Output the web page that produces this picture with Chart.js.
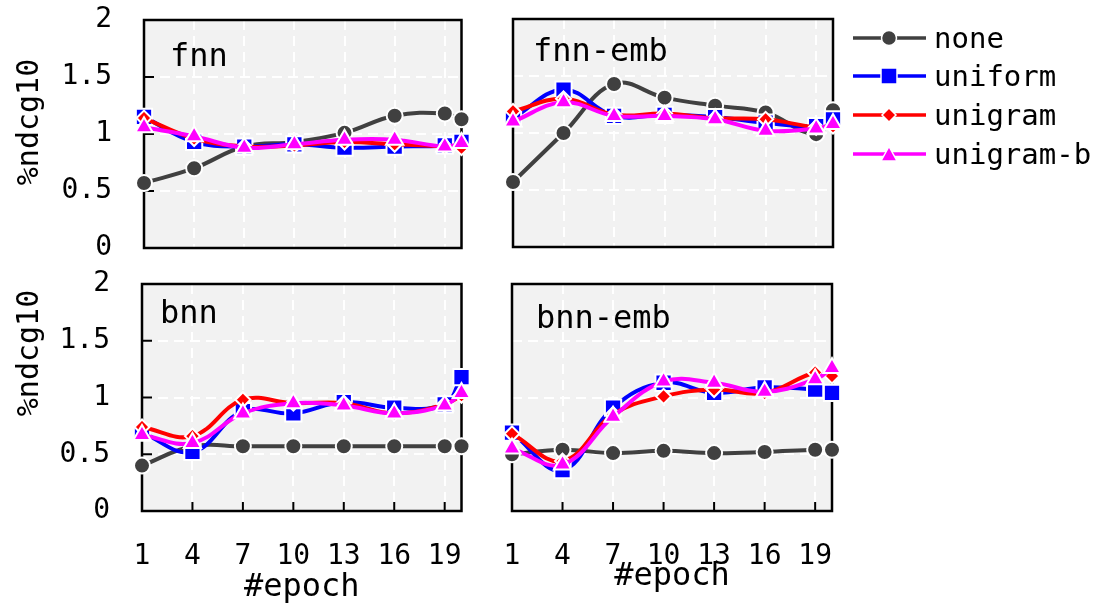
<!DOCTYPE html>
<html>
<head>
<meta charset="utf-8">
<script src="https://cdn.jsdelivr.net/npm/chart.js@4.4.0/dist/chart.umd.min.js"></script>
<style>
  body { margin: 0; background: #fff; width: 1108px; height: 605px; overflow: hidden; position: relative; }
  canvas { position: absolute; }
  #legend { position: absolute; left: 0; top: 0; pointer-events: none; }
</style>
</head>
<body>
<canvas id="fnn" width="475" height="262" style="left:0;top:0"></canvas>
<canvas id="fnnEmb" width="360" height="262" style="left:490px;top:0"></canvas>
<canvas id="bnn" width="475" height="335" style="left:0;top:270px"></canvas>
<canvas id="bnnEmb" width="360" height="335" style="left:490px;top:270px"></canvas>
<svg id="legend" width="1108" height="200"></svg>

<script>
// epochs sampled on the x axis, and the ones that get a tick label
const epochs = [1, 4, 7, 10, 13, 16, 19, 20];
const epochTicks = [1, 4, 7, 10, 13, 16, 19];
const seriesNames = ["none", "uniform", "unigram", "unigram-b"];

// %ndcg10 per epoch
const fnnNone     = [0.57, 0.70, 0.89, 0.93, 1.01, 1.16, 1.18, 1.13];
const fnnUniform  = [1.15, 0.93, 0.89, 0.91, 0.88, 0.89, 0.90, 0.93];
const fnnUnigram  = [1.14, 0.96, 0.89, 0.90, 0.93, 0.91, 0.89, 0.88];
const fnnUnigramB = [1.06, 0.98, 0.88, 0.91, 0.95, 0.95, 0.89, 0.92];

const fnnEmbNone     = [0.57, 1.00, 1.43, 1.31, 1.24, 1.18, 0.99, 1.20];
const fnnEmbUniform  = [1.13, 1.38, 1.15, 1.16, 1.14, 1.09, 1.06, 1.12];
const fnnEmbUnigram  = [1.19, 1.30, 1.16, 1.17, 1.13, 1.12, 1.05, 1.06];
const fnnEmbUnigramB = [1.10, 1.27, 1.15, 1.15, 1.12, 1.02, 1.04, 1.08];

const bnnNone     = [0.40, 0.57, 0.57, 0.57, 0.57, 0.57, 0.57, 0.57];
const bnnUniform  = [0.69, 0.52, 0.88, 0.86, 0.96, 0.91, 0.94, 1.18];
const bnnUnigram  = [0.74, 0.66, 0.98, 0.95, 0.95, 0.86, 0.94, 1.02];
const bnnUnigramB = [0.67, 0.60, 0.86, 0.95, 0.93, 0.86, 0.93, 1.04];

const bnnEmbNone     = [0.50, 0.54, 0.51, 0.53, 0.51, 0.52, 0.54, 0.54];
const bnnEmbUniform  = [0.69, 0.36, 0.91, 1.13, 1.04, 1.09, 1.07, 1.04];
const bnnEmbUnigram  = [0.68, 0.44, 0.85, 1.01, 1.07, 1.04, 1.22, 1.19];
const bnnEmbUnigramB = [0.55, 0.41, 0.83, 1.14, 1.13, 1.05, 1.16, 1.26];

const MONO = "'DejaVu Sans Mono', monospace";

const seriesStyle = [
  { color: "#404040", pointStyle: "circle", radius: 8 },
  { color: "#0000ff", pointStyle: "rect", radius: 11.5 },
  { color: "#ff0000", pointStyle: "rectRot", radius: 7.5 },
  { color: "#ff00ff", pointStyle: "triangle", radius: 10 },
];

// grey plot background, black frame, inner tick marks, panel name and y title
const panelDecor = {
  id: "panelDecor",
  beforeDraw(chart) {
    const { ctx, chartArea: a } = chart;
    ctx.save();
    ctx.fillStyle = "#f2f2f2";
    ctx.fillRect(a.left, a.top, a.right - a.left, a.bottom - a.top);
    ctx.restore();
  },
  beforeDatasetsDraw(chart, args, opts) {
    const { ctx, chartArea: a, scales } = chart;
    ctx.save();
    ctx.strokeStyle = "#000";
    ctx.lineWidth = 2.5;
    ctx.strokeRect(a.left, a.top, a.right - a.left, a.bottom - a.top);

    ctx.lineWidth = 2;
    ctx.beginPath();
    if (opts.yMarks) {
      scales.y.ticks.forEach(function (t) {
        if (t.value > 0 && t.value < 2) {
          const y = scales.y.getPixelForValue(t.value);
          ctx.moveTo(a.left, y);
          ctx.lineTo(a.left + 10, y);
        }
      });
    }
    if (opts.xMarks) {
      epochTicks.slice(1).forEach(function (v) {
        const x = scales.x.getPixelForValue(v);
        ctx.moveTo(x, a.bottom);
        ctx.lineTo(x, a.bottom - 9);
      });
    }
    ctx.stroke();

    ctx.fillStyle = "#000";
    ctx.textBaseline = "middle";
    ctx.textAlign = "left";
    ctx.font = "32px " + MONO;
    ctx.fillText(opts.name, a.left + opts.nameDx, a.top + opts.nameDy);

    if (opts.yTitle) {
      ctx.font = "30px " + MONO;
      ctx.translate(opts.yTitleX, opts.yTitleY);
      ctx.rotate(-Math.PI / 2);
      ctx.textAlign = "center";
      ctx.fillText(opts.yTitle, 0, 0);
    }
    ctx.restore();
  },
};

function makeDatasets(rows) {
  return rows.map(function (vals, i) {
    const s = seriesStyle[i];
    return {
      label: seriesNames[i],
      data: epochs.map(function (e, j) { return { x: e, y: vals[j] }; }),
      borderColor: s.color,
      backgroundColor: s.color,
      borderWidth: 4,
      tension: 0.4,
      pointStyle: s.pointStyle,
      pointRadius: s.radius,
      pointBorderColor: "#fff",
      pointBorderWidth: 2,
      order: rows.length - i,
      clip: false,
    };
  });
}

// axis boxes get fixed sizes and no extra padding, so plot areas line up
function fixBox(size, horizontal) {
  return function (scale) {
    if (horizontal) scale.height = size; else scale.width = size;
    scale.paddingLeft = scale.paddingRight = scale.paddingTop = scale.paddingBottom = 0;
  };
}

function makePanel(id, rows, cfg) {
  new Chart(document.getElementById(id), {
    type: "line",
    data: { datasets: makeDatasets(rows) },
    plugins: [panelDecor],
    options: {
      responsive: false,
      animation: false,
      layout: { padding: cfg.padding },
      plugins: {
        legend: { display: false },
        tooltip: { enabled: false },
        panelDecor: cfg.decor,
      },
      scales: {
        x: {
          type: "linear",
          min: 1,
          max: 20,
          afterBuildTicks: function (scale) {
            scale.ticks = epochTicks.map(function (v) { return { value: v }; });
          },
          afterFit: fixBox(cfg.xHeight, true),
          grid: { color: "#fff", lineWidth: 2, drawTicks: false },
          border: { display: false, dash: [10, 6] },
          ticks: {
            display: cfg.xLabels,
            padding: 29,
            color: "#000",
            font: { family: MONO, size: 28 },
            maxRotation: 0,
            autoSkip: false,
          },
          title: {
            display: cfg.xLabels,
            text: "#epoch",
            color: "#000",
            font: { family: MONO, size: 32, lineHeight: 1 },
            padding: { top: 0, bottom: cfg.xTitlePad || 0 },
          },
        },
        y: {
          min: 0,
          max: 2,
          afterFit: fixBox(cfg.yWidth, false),
          grid: { color: "#fff", lineWidth: 2, drawTicks: false },
          border: { display: false, dash: [10, 6] },
          ticks: {
            display: cfg.yLabels,
            stepSize: 0.5,
            padding: 32,
            color: "#000",
            font: { family: MONO, size: 28 },
            callback: function (v) { return String(v); },
          },
        },
      },
    },
  });
}

makePanel("fnn", [fnnNone, fnnUniform, fnnUnigram, fnnUnigramB], {
  padding: { left: 0, right: 12, top: 20, bottom: 14 },
  xHeight: 0, yWidth: 144, xLabels: false, yLabels: true,
  decor: { name: "fnn", nameDx: 26, nameDy: 38, yMarks: true, xMarks: false,
           yTitle: "%ndcg10", yTitleX: 30, yTitleY: 122 },
});

makePanel("fnnEmb", [fnnEmbNone, fnnEmbUniform, fnnEmbUnigram, fnnEmbUnigramB], {
  padding: { left: 23, right: 17, top: 19, bottom: 15 },
  xHeight: 0, yWidth: 0, xLabels: false, yLabels: false,
  decor: { name: "fnn-emb", nameDx: 20, nameDy: 34, yMarks: false, xMarks: false },
});

makePanel("bnn", [bnnNone, bnnUniform, bnnUnigram, bnnUnigramB], {
  padding: { left: 0, right: 12, top: 14, bottom: 0 },
  xHeight: 94, yWidth: 142, xLabels: true, yLabels: true, xTitlePad: 1,
  decor: { name: "bnn", nameDx: 18, nameDy: 31, yMarks: true, xMarks: true,
           yTitle: "%ndcg10", yTitleX: 30, yTitleY: 83 },
});

makePanel("bnnEmb", [bnnEmbNone, bnnEmbUniform, bnnEmbUnigram, bnnEmbUnigramB], {
  padding: { left: 22, right: 18, top: 14, bottom: 0 },
  xHeight: 94, yWidth: 0, xLabels: true, yLabels: false, xTitlePad: 12,
  decor: { name: "bnn-emb", nameDx: 24, nameDy: 36, yMarks: false, xMarks: true },
});

// shared legend to the right of the panels
(function buildLegend() {
  const NS = "http://www.w3.org/2000/svg";
  const svg = document.getElementById("legend");
  const rowY = [38, 76, 115, 154];
  function el(tag, attrs) {
    const n = document.createElementNS(NS, tag);
    for (const k in attrs) n.setAttribute(k, attrs[k]);
    svg.appendChild(n);
    return n;
  }
  seriesNames.forEach(function (name, i) {
    const s = seriesStyle[i];
    const y = rowY[i];
    const cx = 889;
    el("line", { x1: 853, y1: y, x2: 926, y2: y, stroke: s.color, "stroke-width": 3.5 });
    if (s.pointStyle === "circle") {
      el("circle", { cx: cx, cy: y, r: 7.5, fill: s.color, stroke: "#fff", "stroke-width": 1.5 });
    } else if (s.pointStyle === "rect") {
      el("rect", { x: cx - 8, y: y - 8, width: 16, height: 16, fill: s.color, stroke: "#fff", "stroke-width": 1.5 });
    } else if (s.pointStyle === "rectRot") {
      el("polygon", { points: [cx - 7, y, cx, y - 7, cx + 7, y, cx, y + 7].join(" "), fill: s.color, stroke: "#fff", "stroke-width": 1.5 });
    } else {
      el("polygon", { points: [cx - 8, y + 7, cx, y - 7.5, cx + 8, y + 7].join(" "), fill: s.color, stroke: "#fff", "stroke-width": 1.5 });
    }
    const t = el("text", { x: 934, y: y, "dominant-baseline": "central", "font-family": "DejaVu Sans Mono", "font-size": 29, fill: "#000" });
    t.textContent = name;
  });
})();
</script>
</body>
</html>
